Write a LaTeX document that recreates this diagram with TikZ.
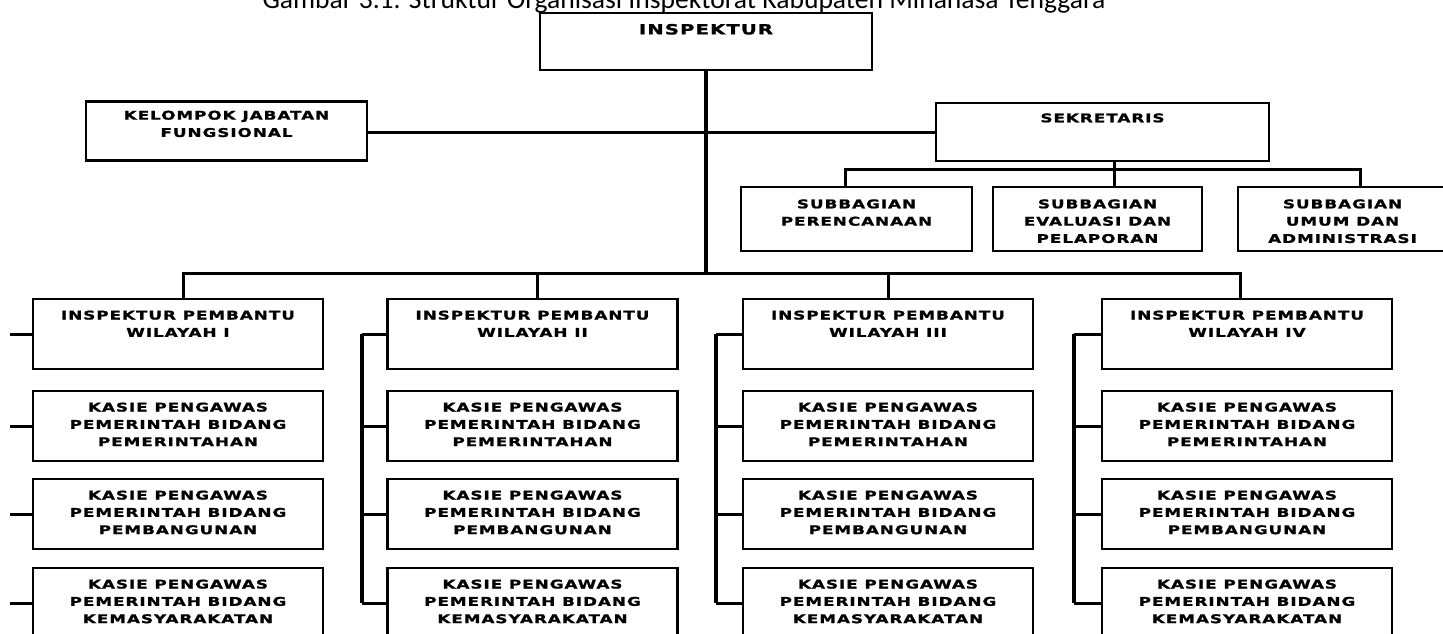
\documentclass[tikz,border=0pt]{standalone}
\usepackage{fontspec}
\setmainfont{Carlito}
\newfontfamily\boxfont{DejaVu Sans}[FakeStretch=1.4, LetterSpace=8, FakeBold=1.4]
\begin{document}
\begin{tikzpicture}[x=1pt,y=-1pt,
  box/.style={draw, line width=2.8pt, inner sep=0pt, rectangle},
  lbl/.style={anchor=north, yshift=-12.8pt, inner sep=0pt, align=center,
    font=\boxfont\bfseries\fontsize{12}{17.3}\selectfont},
  conn/.style={line width=3pt},
  bus/.style={line width=3.6pt},
  trunk/.style={line width=4.4pt},
  ipbox/.style={box, minimum width=290pt, minimum height=70pt},
  subbox/.style={box, minimum height=64pt}]
\useasboundingbox (0,0) rectangle (1443,634);
\clip (0,0) rectangle (1443,634);

% title
\node[anchor=base, inner sep=0pt, font=\fontsize{27.6}{30}\selectfont] (title) at (684,9)
  {Gambar 3.1. Struktur Organisasi Inspektorat Kabupaten Minahasa Tenggara};

% top level
\node[box, minimum width=332pt, minimum height=57pt,
  label={[lbl, font=\boxfont\bfseries\fontsize{14}{17.3}\selectfont, yshift=0.6pt]north:{INSPEKTUR}}] (insp) at (706,41.5) {};
\node[box, minimum width=281pt, minimum height=59pt,
  label={[lbl, yshift=2.4pt]north:{KELOMPOK JABATAN\\FUNGSIONAL}}] (kjf) at (226.5,131) {};
\node[box, minimum width=333pt, minimum height=58pt,
  label={[lbl, yshift=1.2pt]north:{SEKRETARIS}}] (sek) at (1102.5,132) {};

% subbagian
\node[subbox, minimum width=231pt, label={[lbl, yshift=-0.8pt]north:{SUBBAGIAN\\PERENCANAAN}}] (sp1) at (856.5,219) {};
\node[subbox, minimum width=209pt, label={[lbl, yshift=-0.8pt]north:{SUBBAGIAN\\EVALUASI DAN\\PELAPORAN}}] (sp2) at (1097.5,219) {};
\node[subbox, minimum width=209pt, label={[lbl, yshift=-0.8pt]north:{SUBBAGIAN\\UMUM DAN\\ADMINISTRASI}}] (sp3) at (1342.5,219) {};

% columns
\foreach \c/\x/\r in {1/178/I, 2/532.5/II, 3/888/III, 4/1247/IV}{
  \node[ipbox, label={[lbl]north:{INSPEKTUR PEMBANTU\\WILAYAH \r}}] (ip\c) at (\x,334) {};
  \node[ipbox, label={[lbl]north:{KASIE PENGAWAS\\PEMERINTAH BIDANG\\PEMERINTAHAN}}] (ka\c) at (\x,426) {};
  \node[ipbox, label={[lbl]north:{KASIE PENGAWAS\\PEMERINTAH BIDANG\\PEMBANGUNAN}}] (kb\c) at (\x,514) {};
  \node[ipbox, label={[lbl]north:{KASIE PENGAWAS\\PEMERINTAH BIDANG\\KEMASYARAKATAN}}] (kc\c) at (\x,603) {};
}

% connectors, upper part
\coordinate (tb) at (706,273);
\draw[trunk] (insp.south) -- (tb);
\draw[conn] (kjf.east |- sek.west) -- (sek.west);
\coordinate (sb) at (1114,169);
\coordinate (sbL) at (845,169);
\coordinate (sbR) at (1360,169);
\draw[conn] (sek.south -| sb) -- (sp2.north -| sb);
\draw[conn] (sp1.north -| sbL) -- (sbL) -- (sbR) -- (sp3.north -| sbR);

% main bus to the four columns
\coordinate (b1) at (183,273);
\coordinate (b2) at (537,273);
\coordinate (b3) at (888,273);
\coordinate (b4) at (1240,273);
\draw[conn] (ip1.north -| b1) -- (b1) -- (b4) -- (ip4.north -| b4);
\draw[conn] (b2) -- (ip2.north -| b2);
\draw[conn] (b3) -- (ip3.north -| b3);

% left buses of the columns
\coordinate (l1) at (10,0);
\foreach \n in {ip1,ka1,kb1,kc1}{
  \draw[conn] (\n.west -| l1) -- (\n.west);
}
\coordinate (l2) at (362,0);
\coordinate (l3) at (716,0);
\coordinate (l4) at (1074,0);
\foreach \c in {2,3,4}{
  \draw[bus] (ip\c.west -| l\c) -- (kc\c.west -| l\c);
  \foreach \n in {ip,ka,kb,kc}{
    \draw[conn] (\n\c.west -| l\c) -- (\n\c.west);
  }
}
\end{tikzpicture}
\end{document}
